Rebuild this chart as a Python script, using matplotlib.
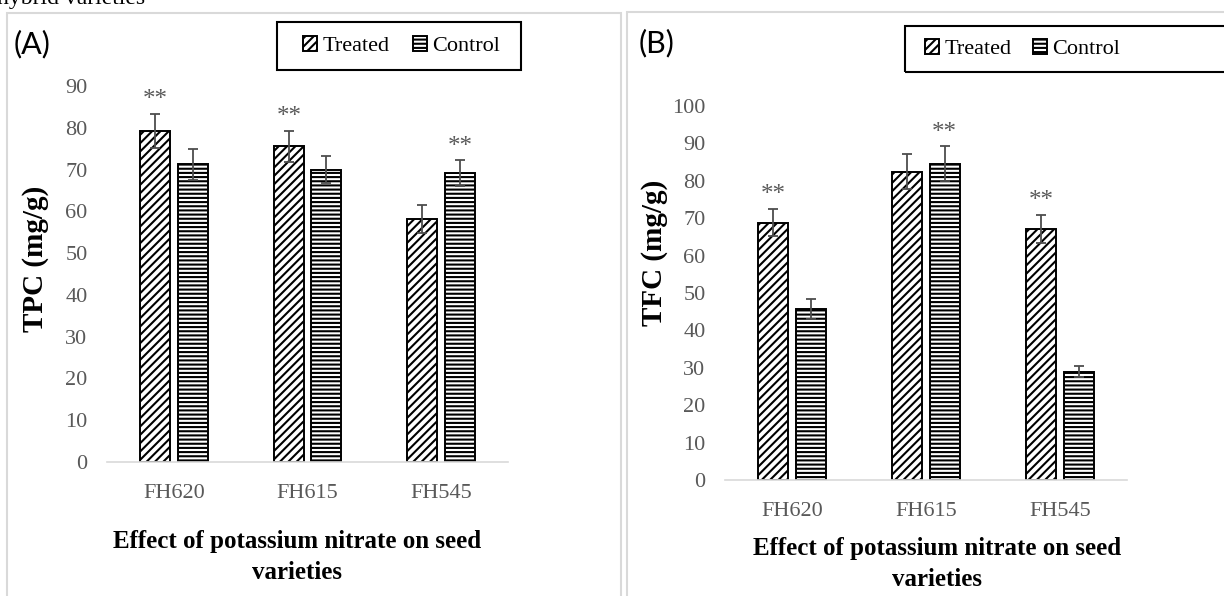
import numpy as np
import matplotlib.pyplot as plt
from matplotlib.patches import Rectangle

# values
varieties = ["FH620", "FH615", "FH545"]

tpc_treated = [79.3, 75.6, 58.1]
tpc_treated_err = [4.1, 3.7, 3.4]
tpc_control = [71.3, 70.0, 69.1]
tpc_control_err = [3.7, 3.2, 3.1]
tpc_stars = ["treated", "treated", "control"]

tfc_treated = [68.8, 82.4, 67.2]
tfc_treated_err = [3.6, 4.7, 3.7]
tfc_control = [45.7, 84.6, 29.0]
tfc_control_err = [2.7, 4.6, 1.5]
tfc_stars = ["treated", "control", "treated"]

W, H = 1224, 596
SERIF = ["Liberation Serif", "DejaVu Serif"]
GREY = "#595959"
ERR = "#4d4d4d"

plt.rcParams["font.family"] = SERIF
plt.rcParams["hatch.linewidth"] = 1.5

fig = plt.figure(figsize=(W / 100, H / 100), dpi=100)


def px_box(x0, y0, x1, y1):
    # pixel box (top-left origin) -> figure fraction rect
    return [x0 / W, 1 - y1 / H, (x1 - x0) / W, (y1 - y0) / H]


def panel(rect, treated, t_err, control, c_err, stars, ymax):
    ax = fig.add_axes(rect)
    x = np.arange(len(varieties))
    w, off = 0.225, 0.14
    ekw = dict(ecolor=ERR, elinewidth=1.3, capsize=3.3, capthick=1.3)
    bt = ax.bar(x - off, treated, w, yerr=t_err, color="white", edgecolor="black",
                hatch="////", linewidth=1.4, label="Treated", error_kw=ekw)
    bc = ax.bar(x + off, control, w, yerr=c_err, color="white", edgecolor="black",
                hatch="----", linewidth=1.4, label="Control", error_kw=ekw)
    for i, s in enumerate(stars):
        if s == "treated":
            xs, ys = x[i] - off, treated[i] + t_err[i]
        else:
            xs, ys = x[i] + off, control[i] + c_err[i]
        ax.annotate("**", (xs, ys), xytext=(0, 2), textcoords="offset points",
                    ha="center", va="bottom", fontsize=18, color=GREY)
    ax.set_xlim(-0.5, 2.5)
    ax.set_ylim(0, ymax)
    ax.set_yticks(np.arange(0, ymax + 1, 10))
    ax.set_xticks(x)
    ax.set_xticklabels(varieties)
    for sp in ["left", "right", "top"]:
        ax.spines[sp].set_visible(False)
    ax.spines["bottom"].set_color("#d9d9d9")
    ax.spines["bottom"].set_linewidth(1.2)
    ax.tick_params(axis="y", length=0, pad=14, labelsize=16, labelcolor=GREY)
    ax.tick_params(axis="x", length=0, pad=16, labelsize=16, labelcolor=GREY)
    return ax, bt, bc


axA, btA, bcA = panel(px_box(107, 86, 508, 462), tpc_treated, tpc_treated_err,
                      tpc_control, tpc_control_err, tpc_stars, 90)
axB, btB, bcB = panel(px_box(725, 106, 1127, 480), tfc_treated, tfc_treated_err,
                      tfc_control, tfc_control_err, tfc_stars, 100)


def frame(x0, y0, x1, y1, color, lw):
    r = Rectangle((x0 / W, 1 - y1 / H), (x1 - x0) / W, (y1 - y0) / H,
                  transform=fig.transFigure, fill=False, edgecolor=color, lw=lw)
    fig.add_artist(r)


# panel frames
frame(7, 13, 621, 620, "#d9d9d9", 1.5)
frame(627, 12, 1260, 620, "#d9d9d9", 1.5)

# clipped caption line from the page above
fig.text(145 / W, 1 - 4 / H, "hybrid varieties", ha="right", va="baseline", fontsize=17)

# panel letters
fig.text(14 / W, 1 - 44 / H, "(A)", fontsize=22, family="Lato", va="center", ha="left")
fig.text(639 / W, 1 - 43 / H, "(B)", fontsize=22, family="Lato", va="center", ha="left")

# axis titles
fig.text(36 / W, 1 - 259 / H, "TPC (mg/g)", rotation=90, ha="center", va="center",
         fontsize=21, fontweight="bold")
fig.text(655 / W, 1 - 253 / H, "TFC (mg/g)", rotation=90, ha="center", va="center",
         fontsize=21, fontweight="bold")
fig.text(297 / W, 1 - 557 / H, "Effect of potassium nitrate on seed\nvarieties",
         ha="center", va="center", fontsize=18, fontweight="bold", linespacing=1.45)
fig.text(937 / W, 1 - 564 / H, "Effect of potassium nitrate on seed\nvarieties",
         ha="center", va="center", fontsize=18, fontweight="bold", linespacing=1.45)

# legends (boxes drawn separately)
frame(277, 22, 521, 70, "black", 1.5)
frame(905, 26, 1260, 72, "black", 1.5)
fig.legend([btA, bcA], ["Treated", "Control"], ncol=2, loc="center left",
           bbox_to_anchor=(303 / W, 1 - 46 / H), fontsize=16, frameon=False,
           handlelength=0.63, handleheight=0.63, handletextpad=0.25,
           columnspacing=1.05, borderpad=0, borderaxespad=0)
fig.legend([btB, bcB], ["Treated", "Control"], ncol=2, loc="center left",
           bbox_to_anchor=(925 / W, 1 - 49 / H), fontsize=16, frameon=False,
           handlelength=0.63, handleheight=0.63, handletextpad=0.25,
           columnspacing=0.95, borderpad=0, borderaxespad=0)

fig.savefig("out.png", dpi=100)
